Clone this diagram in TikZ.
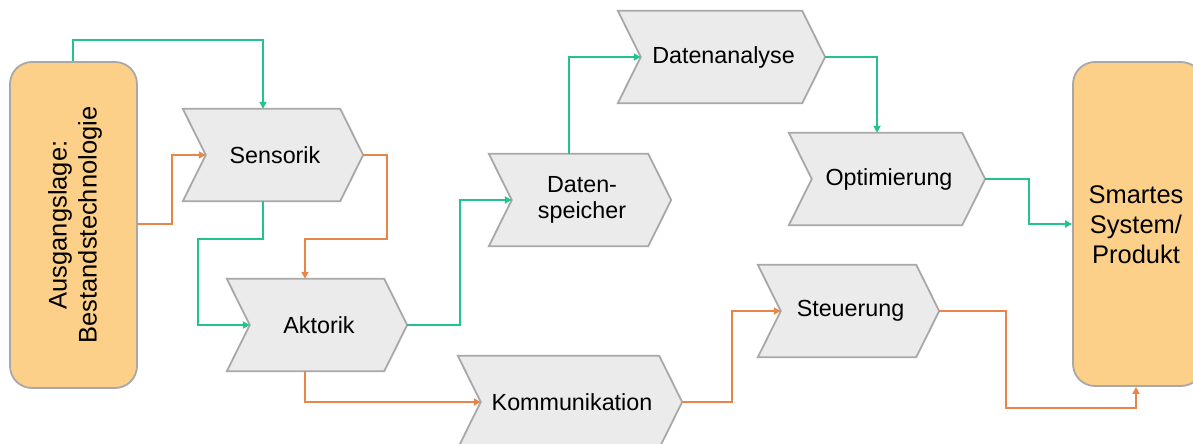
\documentclass[tikz,border=0pt]{standalone}
\usepackage{fontspec}
\setmainfont{Liberation Sans}
\usetikzlibrary{arrows.meta}
\definecolor{cgreen}{HTML}{22C38E}
\definecolor{corange}{HTML}{E8864A}
\definecolor{cgray}{HTML}{EBEBEB}
\definecolor{cborder}{HTML}{A8A8A8}
\definecolor{cbox}{HTML}{FDD08A}
\tikzset{
  chevbox/.style={inner sep=0pt, minimum height=92pt},
  chevdraw/.style={draw=cborder, fill=cgray, line width=1.8pt, line join=miter},
  lbl/.style={font=\fontsize{23.3}{26}\selectfont, align=center, text=black},
  biglbl/.style={font=\fontsize{25.5}{30}\selectfont, align=center, text=black},
  bigbox/.style={draw=cborder, fill=cbox, line width=1.8pt, rounded corners=22pt, inner sep=0pt},
  gconn/.style={draw=cgreen, line width=2.2pt, -{Triangle[length=7pt,width=7pt]}},
  oconn/.style={draw=corange, line width=2.2pt, -{Triangle[length=7pt,width=7pt]}},
}
\newcommand\chev[5]{%
  \node[chevbox, minimum width=#4pt] (#1) at (#2,#3) {};
  \draw[chevdraw] (#1.north west) -- ([xshift=-23pt]#1.north east) -- (#1.east)
    -- ([xshift=-23pt]#1.south east) -- (#1.south west) -- ([xshift=23pt]#1.west) -- cycle;
  \coordinate (#1-in) at ([xshift=23pt]#1.west);
  \node[lbl] (#1-t) at ([xshift=2pt]#1.center) {#5};
}
\begin{document}
\begin{tikzpicture}[x=1pt,y=-1pt]
\useasboundingbox (0,0) rectangle (1193,444);
% big boxes
\node[bigbox, minimum width=127pt, minimum height=326pt] (src) at (73.5,225) {};
\node[biglbl, rotate=90] (src-t) at (75,225) {Ausgangslage:\\Bestandstechnologie};
\node[bigbox, minimum width=130pt, minimum height=324pt] (dst) at (1138,224) {};
\node[biglbl] (dst-t) at (1136,225) {Smartes\\System/\\Produkt};
% chevrons
\chev{sens}{273}{155}{180}{Sensorik}
\chev{akt}{317}{325}{180}{Aktorik}
\chev{dsp}{580}{200}{182}{Daten-\\speicher}
\chev{dan}{721.5}{57}{207}{Datenanalyse}
\chev{opt}{887}{179}{196}{Optimierung}
\chev{steu}{848.5}{311}{181}{Steuerung}
\chev{komm}{570}{402}{224}{Kommunikation}
% connectors
\draw[gconn] (src.north -| 73,0) -- (73,40) -- (263,40) -- (sens.north -| 263,0);
\draw[oconn] (src.east |- 0,224) -- (172,224) -- (172,155) -- (sens-in);
\draw[gconn] (sens.south -| 263,0) -- (263,239) -- (198,239) -- (198,325) -- (akt-in);
\draw[oconn] (sens.east) -- (387,155) -- (387,239) -- (305,239) -- (akt.north -| 305,0);
\draw[gconn] (akt.east) -- (460,325) -- (460,200) -- (dsp-in);
\draw[gconn] (dsp.north -| 569,0) -- (569,57) -- (dan-in);
\draw[gconn] (dan.east) -- (877,57) -- (opt.north -| 877,0);
\draw[gconn] (opt.east) -- (1029,179) -- (1029,224) -- (dst.west |- 0,224);
\draw[oconn] (akt.south -| 305,0) -- (305,402) -- (komm-in);
\draw[oconn] (komm.east) -- (732,402) -- (732,311) -- (steu-in);
\draw[oconn] (steu.east) -- (1006,311) -- (1006,408) -- (1136,408) -- (dst.south -| 1136,0);
\end{tikzpicture}
\end{document}
